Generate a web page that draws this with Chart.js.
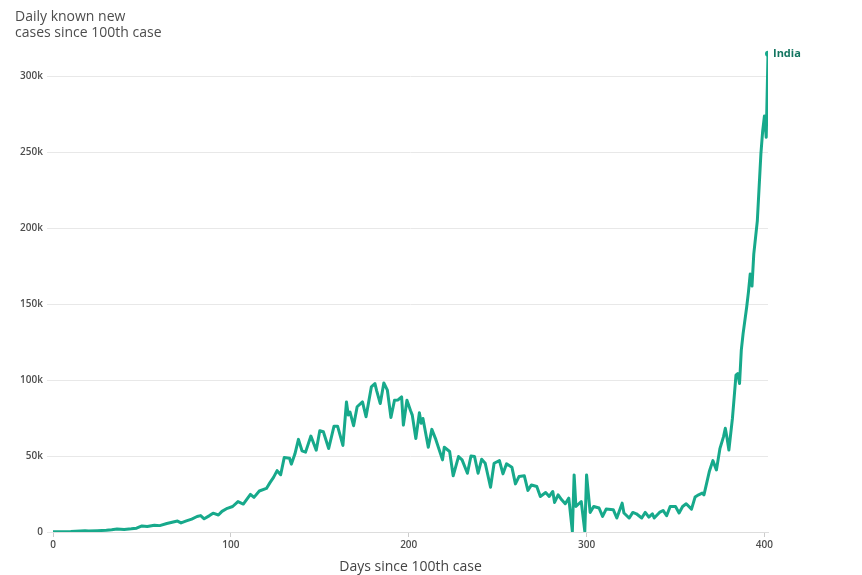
<!DOCTYPE html>
<html>
<head>
<meta charset="utf-8">
<script src="https://cdn.jsdelivr.net/npm/chart.js@4"></script>
<style>
    html, body { margin: 0; padding: 0; background: #fff; }
    #wrap { width: 862px; height: 575px; position: relative; }
</style>
</head>
<body>
<div id="wrap"><canvas id="casesChart"></canvas></div>
<script>
// Days since 100th case
const days = [0, 10, 18, 20, 25, 30, 33, 36, 40, 44, 47, 50, 53, 57, 60, 64, 67, 70, 72, 75,
    78, 81, 83, 85, 88, 90, 93, 95, 98, 101, 104, 107, 111, 113, 116, 120, 122, 124, 126, 128,
    130, 133, 134, 136, 138, 140, 142, 145, 148, 150, 152, 155, 158, 160, 163, 165, 166, 167, 169, 171,
    174, 176, 179, 181, 182, 184, 186, 188, 190, 192, 194, 196, 197, 199, 201, 202, 204, 206, 207, 208,
    211, 213, 215, 219, 220, 223, 225, 228, 230, 233, 235, 237, 239, 241, 243, 246, 248, 251, 253, 255,
    258, 260, 262, 265, 267, 269, 272, 274, 277, 279, 281, 282, 284, 286, 288, 290, 292, 293, 294, 297,
    299, 300, 302, 304, 307, 309, 311, 315, 317, 320, 321, 324, 326, 328, 331, 333, 335, 337, 338, 341,
    343, 345, 347, 350, 352, 354, 356, 359, 361, 363, 365, 366, 369, 371, 373, 375, 377, 378, 379, 380,
    382, 383, 384, 385, 386, 387, 388, 390, 391, 392, 393, 394, 396, 397, 398, 399, 400, 401, 402];

// Daily known new cases (India)
const newCases = [100, 300, 900, 600, 900, 1100, 1500, 2000, 1700, 2100, 2500, 4000, 3600, 4500, 4200, 5600, 6400, 7200, 6000, 7300,
    8500, 10200, 10800, 8700, 10800, 12400, 11200, 13600, 15600, 16800, 20000, 18400, 24800, 22800, 27000, 28700, 32500, 36000, 40400, 37700,
    49000, 48600, 44700, 51300, 61000, 53500, 52600, 63200, 53900, 66700, 66000, 55000, 69700, 69700, 57000, 85700, 77000, 79000, 70000, 82500,
    85700, 75900, 95600, 97800, 93000, 84600, 98200, 93400, 75400, 86800, 87000, 89000, 70400, 86800, 80000, 77000, 61600, 78500, 71700, 74800,
    55800, 67600, 61700, 47500, 55800, 53000, 37000, 49700, 47500, 38700, 50100, 49700, 38700, 47900, 45300, 29500, 45300, 47000, 38300, 44900,
    42700, 31700, 36500, 37000, 27400, 31000, 30000, 23400, 26000, 23400, 26700, 19500, 24500, 21200, 18600, 22300, 400, 37600, 16800, 20100,
    400, 37600, 12900, 16800, 15800, 10300, 15100, 14700, 9200, 19000, 12500, 9200, 12900, 12000, 9200, 12900, 9800, 12000, 9200, 12900,
    14200, 10700, 16800, 16800, 12500, 16800, 18600, 15100, 23000, 24500, 25600, 24500, 39800, 47000, 40900, 55100, 62800, 68300, 61700, 54000,
    74800, 89000, 103300, 104400, 97800, 120000, 130700, 148000, 158000, 170000, 162000, 183000, 205000, 227000, 249000, 264000, 274000, 260000, 315000];

const seriesName = 'India';
const xTicks = [0, 100, 200, 300, 400];
const yTicks = [0, 50000, 100000, 150000, 200000, 250000, 300000];

const lineColor = '#17a98b';
const textGray = '#4d4d4d';

const points = days.map((d, i) => ({ x: d, y: newCases[i] }));
const lastIndex = points.length - 1;

// Label the end of the line with the country name
const endLabel = {
    id: 'endLabel',
    afterDatasetsDraw(chart) {
        const meta = chart.getDatasetMeta(0);
        const pt = meta.data[lastIndex];
        if (!pt) return;
        const ctx = chart.ctx;
        ctx.save();
        ctx.font = 'bold 11px "Open Sans", sans-serif';
        ctx.fillStyle = '#137560';
        ctx.textAlign = 'left';
        ctx.textBaseline = 'middle';
        ctx.fillText(seriesName, pt.x + 5, pt.y);
        ctx.restore();
    }
};

new Chart(document.getElementById('casesChart'), {
    type: 'line',
    data: {
        datasets: [{
            label: seriesName,
            data: points,
            borderColor: lineColor,
            backgroundColor: lineColor,
            borderWidth: 3,
            borderJoinStyle: 'round',
            borderCapStyle: 'round',
            tension: 0,
            pointRadius: ctx => ctx.dataIndex === lastIndex ? 3 : 0,
            pointHoverRadius: 0,
            pointBorderWidth: 0
        }]
    },
    options: {
        responsive: true,
        maintainAspectRatio: false,
        animation: false,
        layout: { padding: { left: 15, right: 94, top: 0, bottom: 0 } },
        plugins: {
            legend: { display: false },
            tooltip: { enabled: false },
            title: {
                display: true,
                align: 'start',
                text: ['Daily known new', 'cases since 100th case'],
                color: textGray,
                font: { family: '"Open Sans", sans-serif', size: 14, weight: '500', lineHeight: 1.15 },
                padding: { top: 9, bottom: 5 }
            }
        },
        scales: {
            x: {
                type: 'linear',
                min: 0,
                max: days[lastIndex],
                afterBuildTicks: scale => { scale.ticks = xTicks.map(v => ({ value: v })); },
                afterFit: scale => { scale.height = 43; },
                grid: { display: true, drawOnChartArea: false, drawTicks: true, tickLength: 5, color: '#ccc' },
                border: { display: true, color: '#ddd' },
                ticks: {
                    color: textGray,
                    padding: 2,
                    font: { family: '"Open Sans", sans-serif', size: 10, weight: '600' }
                },
                title: {
                    display: true,
                    text: 'Days since 100th case',
                    color: '#444',
                    font: { family: '"Open Sans", sans-serif', size: 14, weight: '500' },
                    padding: { top: 2, bottom: 0 }
                }
            },
            y: {
                min: 0,
                max: 320000,
                afterBuildTicks: scale => { scale.ticks = yTicks.map(v => ({ value: v })); },
                afterFit: scale => { scale.width = 38; },
                grid: { color: '#e8e8e8', drawTicks: true, tickLength: 6 },
                border: { display: false },
                ticks: {
                    color: textGray,
                    padding: 4,
                    font: { family: '"Open Sans", sans-serif', size: 10, weight: '600' },
                    callback: v => v === 0 ? '0' : (v / 1000) + 'k'
                }
            }
        }
    },
    plugins: [endLabel]
});
</script>
</body>
</html>
